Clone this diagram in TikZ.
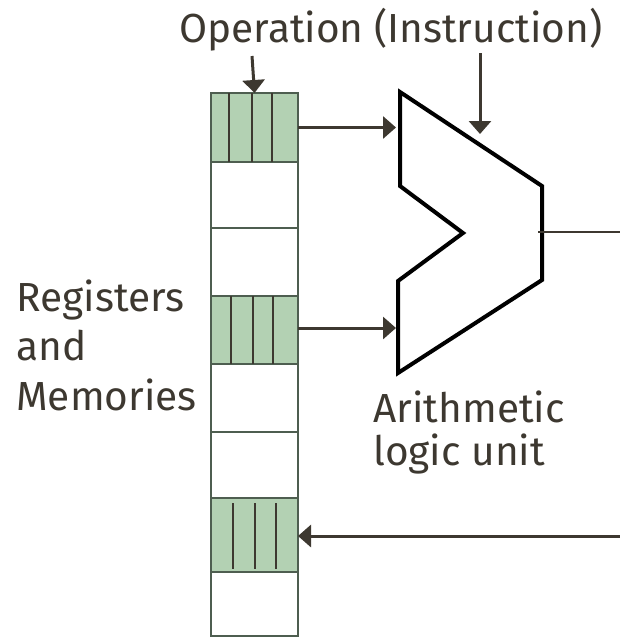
\documentclass[tikz,border=0pt]{standalone}
\usepackage{fontspec}
\setmainfont{Fira Sans}
\usetikzlibrary{arrows.meta}
\definecolor{ink}{HTML}{3D3830}
\definecolor{cellfill}{HTML}{B3D1B3}
\definecolor{cellline}{HTML}{4E5E50}
\begin{document}
\begin{tikzpicture}[x=0.5pt,y=-0.5pt,
  cellbox/.style={draw=cellline, line width=1pt, minimum width=43.5pt, inner sep=0pt, outer sep=0pt},
  greencell/.style={cellbox, fill=cellfill},
  divider/.style={draw=ink, line width=1pt},
  conn/.style={draw=ink, line width=1.5pt, -{Triangle[width=11pt,length=6.5pt]}},
  plainline/.style={draw=ink, line width=1.4pt},
  alu/.style={draw=black, line width=2pt, line join=miter},
  lbl/.style={text=ink, font=\fontsize{20.3}{24}\selectfont, anchor=base west, inner sep=0pt}]
\useasboundingbox (0,0) rectangle (620,638);
% register column
\node[greencell, minimum height=34.5pt] (c1) at (254.5,127.5) {};
\node[cellbox, minimum height=33pt] (c2) at (254.5,195) {};
\node[cellbox, minimum height=34pt] (c3) at (254.5,262) {};
\node[greencell, minimum height=34pt] (c4) at (254.5,330) {};
\node[cellbox, minimum height=34pt] (c5) at (254.5,398) {};
\node[cellbox, minimum height=33pt] (c6) at (254.5,465) {};
\node[greencell, minimum height=37pt] (c7) at (254.5,535) {};
\node[cellbox, minimum height=32pt] (c8) at (254.5,604) {};
% dividers
\foreach \x in {229,252,272} \draw[divider] (\x,93) -- (\x,162);
\foreach \x in {231,253,273} \draw[divider] (\x,296) -- (\x,364);
\foreach \x in {233,255,276} \draw[divider] (\x,503) -- (\x,569);
% ALU
\draw[alu] (400,92) -- (542,186) -- (542,280) -- (398,373) -- (398,281) -- (463,233) -- (400,186) -- cycle;
\coordinate (in1) at (396,127.5);
\coordinate (in2) at (396,328);
\coordinate (instend) at (480,134);
\coordinate (out) at (538,232);
% texts
\node[lbl] (op) at (179,42) {Operation (Instruction)};
\coordinate (opstart) at (252,56);
\coordinate (inststart) at (480,53);
\node[lbl] (reg1) at (16,311) {Registers};
\node[lbl] (reg2) at (16,360) {and};
\node[lbl] (reg3) at (16,410) {Memories};
\node[lbl] (alu1) at (373,422) {Arithmetic};
\node[lbl] (alu2) at (373,465) {logic unit};
\coordinate (outend) at (620,232);
\coordinate (backstart) at (620,536);
% connectors
\draw[conn] (opstart) -- (c1.north);
\draw[conn] (inststart) -- (instend);
\draw[conn] (c1.east) -- (in1);
\draw[conn] (c4.east |- in2) -- (in2);
\draw[plainline] (out) -- (outend);
\draw[conn] (backstart) -- (c7.east |- backstart);
\end{tikzpicture}
\end{document}
